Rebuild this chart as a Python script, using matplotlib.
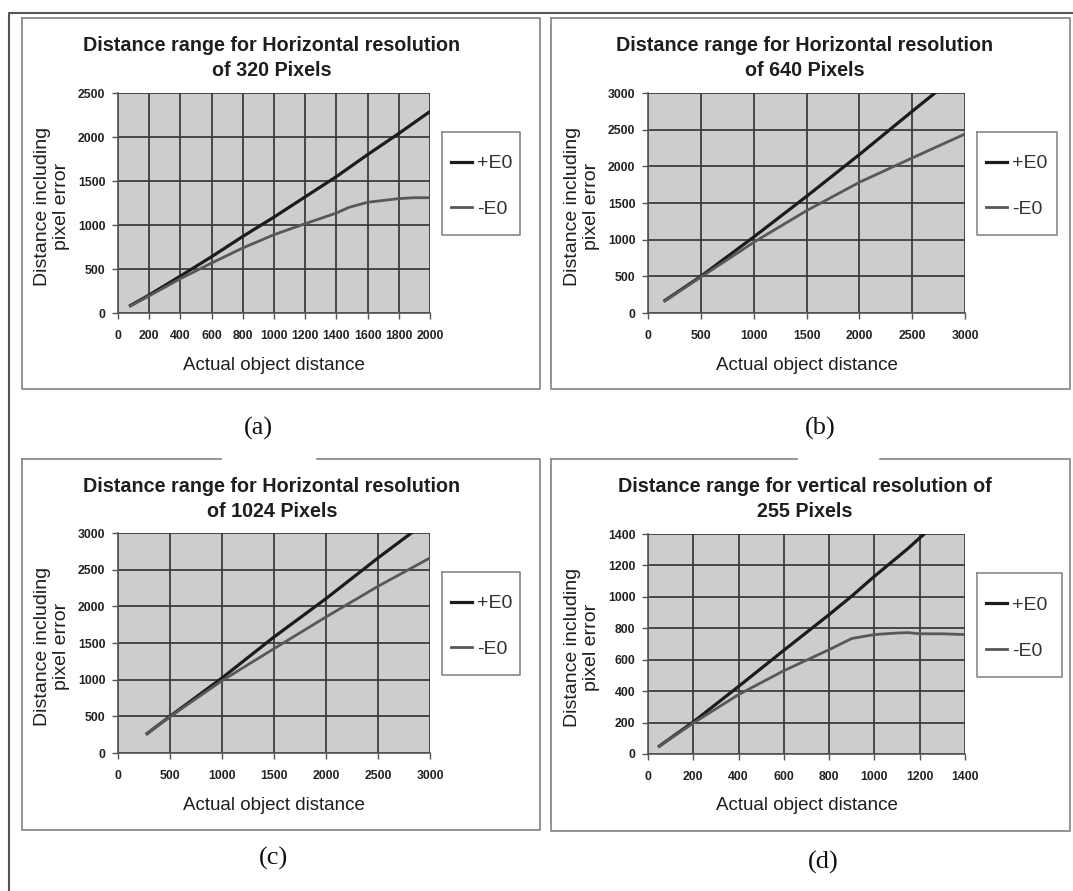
import matplotlib
matplotlib.use('Agg')
import matplotlib.pyplot as plt
from matplotlib.lines import Line2D
from matplotlib.patches import Rectangle

plt.rcParams['font.family'] = ['Liberation Sans', 'DejaVu Sans']

W, H = 1073, 891

# data
titles = ['Distance range for Horizontal resolution\nof 320 Pixels',
          'Distance range for Horizontal resolution\nof 640 Pixels',
          'Distance range for Horizontal resolution\nof 1024 Pixels',
          'Distance range for vertical resolution of\n255 Pixels']
sub_labels = ['(a)', '(b)', '(c)', '(d)']

a_x = [80, 200, 400, 600, 800, 1000, 1200, 1400, 1480, 1600, 1800, 1900, 2000]
a_plus = [85, 205, 420, 640, 870, 1090, 1320, 1550, 1650, 1800, 2040, 2165, 2290]
a_minus = [80, 195, 390, 568, 739, 890, 1015, 1136, 1200, 1258, 1300, 1310, 1310]

b_x = [160, 500, 1000, 1500, 2000, 2500, 3000]
b_plus = [170, 500, 1036, 1590, 2160, 2750, 3330]
b_minus = [165, 490, 964, 1395, 1782, 2114, 2441]

c_x = [280, 500, 1000, 1500, 2000, 2500, 3000]
c_plus = [265, 500, 1023, 1582, 2105, 2660, 3190]
c_minus = [265, 495, 986, 1423, 1855, 2273, 2660]

d_x = [50, 200, 400, 600, 800, 900, 1000, 1100, 1150, 1200, 1300, 1400]
d_plus = [50, 204, 430, 660, 887, 1005, 1131, 1250, 1310, 1375, 1500, 1620]
d_minus = [50, 197, 378, 530, 664, 735, 760, 770, 772, 765, 765, 760]

xs = [a_x, b_x, c_x, d_x]
plus = [a_plus, b_plus, c_plus, d_plus]
minus = [a_minus, b_minus, c_minus, d_minus]
xlims = [(0, 2000), (0, 3000), (0, 3000), (0, 1400)]
ylims = [(0, 2500), (0, 3000), (0, 3000), (0, 1400)]
xsteps = [200, 500, 500, 200]
ysteps = [500, 500, 500, 200]


def rect(x0, y0, x1, y1):
    return [x0 / W, 1 - y1 / H, (x1 - x0) / W, (y1 - y0) / H]


def fx(x):
    return x / W


def fy(y):
    return 1 - y / H


fig = plt.figure(figsize=(W / 100, H / 100), dpi=100)

# outer frame (left + top)
fig.add_artist(Line2D([fx(9), fx(9), fx(1073)], [fy(891), fy(13), fy(13)],
                      color='#555555', lw=1.5))

# panel boxes: (x0, y0, x1, y1, gap in top edge)
boxes = [(22, 18, 540, 389, None), (551, 18, 1070, 389, None),
         (22, 459, 540, 830, (222, 315)), (551, 459, 1070, 831, (798, 878))]
plot_areas = [(118, 93, 430, 313), (648, 93, 965, 313),
              (118, 533, 430, 753), (648, 534, 965, 754)]
legend_boxes = [(442, 132, 520, 235), (977, 132, 1057, 235),
                (442, 572, 520, 675), (977, 573, 1062, 677)]
label_pos = [(258, 428), (820, 428), (273, 858), (823, 862)]

for i in range(4):
    x0, y0, x1, y1, gap = boxes[i]
    c = '#8a8a8a'
    fig.add_artist(Line2D([fx(x0), fx(x0), fx(x1), fx(x1), fx(x0)],
                          [fy(y0), fy(y1), fy(y1), fy(y0), fy(y0)], color=c, lw=1.3))
    if gap:
        fig.add_artist(Rectangle((fx(gap[0]), fy(y0) - 0.003), (gap[1] - gap[0]) / W, 0.006,
                                 color='white', zorder=3))

    px0, py0, px1, py1 = plot_areas[i]
    ax = fig.add_axes(rect(px0, py0, px1, py1))
    ax.set_facecolor('#cdcdcd')
    ax.set_xlim(xlims[i])
    ax.set_ylim(ylims[i])
    ax.set_xticks(range(xlims[i][0], xlims[i][1] + 1, xsteps[i]))
    ax.set_yticks(range(ylims[i][0], ylims[i][1] + 1, ysteps[i]))
    ax.grid(True, color='#3c3c3c', lw=1.3)
    ax.set_axisbelow(True)
    for s in ['top', 'right']:
        ax.spines[s].set_visible(False)
    for s in ['left', 'bottom']:
        ax.spines[s].set_color('#555555')
        ax.spines[s].set_linewidth(1.2)
    ax.tick_params(length=4, width=1, color='#555555', labelsize=8.8)
    ax.tick_params(axis='x', pad=8)
    ax.tick_params(axis='y', pad=5)
    for t in ax.get_xticklabels() + ax.get_yticklabels():
        t.set_fontweight('bold')
        t.set_color('#222222')

    ax.plot(xs[i], plus[i], color='#1c1c1c', lw=2.3, label='+E0')
    ax.plot(xs[i], minus[i], color='#585858', lw=2.0, label='-E0')

    # legend entries without frame, frame drawn as its own box
    lb = legend_boxes[i]
    leg = ax.legend(loc='center left', bbox_to_anchor=(fx(lb[0] + 9), fy((lb[1] + lb[3]) / 2 + 3)),
                    bbox_transform=fig.transFigure, fontsize=14, frameon=False,
                    borderpad=0, labelspacing=1.45, handlelength=1.1,
                    handletextpad=0.25, borderaxespad=0)
    for t in leg.get_texts():
        t.set_color('#333333')
    fig.add_artist(Line2D([fx(lb[0]), fx(lb[0]), fx(lb[2]), fx(lb[2]), fx(lb[0])],
                          [fy(lb[1]), fy(lb[3]), fy(lb[3]), fy(lb[1]), fy(lb[1])],
                          color='#888888', lw=1.2))

    cx = (px0 + px1) / 2 - 2
    fig.text(fx(cx), fy(58 + (y0 - 18)), titles[i], ha='center', va='center',
             fontsize=14.2, fontweight='bold', color='#1e1e1e', linespacing=1.45)
    fig.text(fx((px0 + px1) / 2), fy(py1 + 52), 'Actual object distance',
             ha='center', va='center', fontsize=13.5, color='#1e1e1e')
    fig.text(fx(px0 - 66), fy((py0 + py1) / 2 + 3), 'Distance including\npixel error',
             ha='center', va='center', rotation=90, fontsize=14, color='#1e1e1e',
             linespacing=1.12)

    lx, ly = label_pos[i]
    fig.text(fx(lx), fy(ly), sub_labels[i], ha='center', va='center', fontsize=19,
             family='Liberation Serif', color='#111111')

plt.savefig('out.png', dpi=100)
plt.close()
